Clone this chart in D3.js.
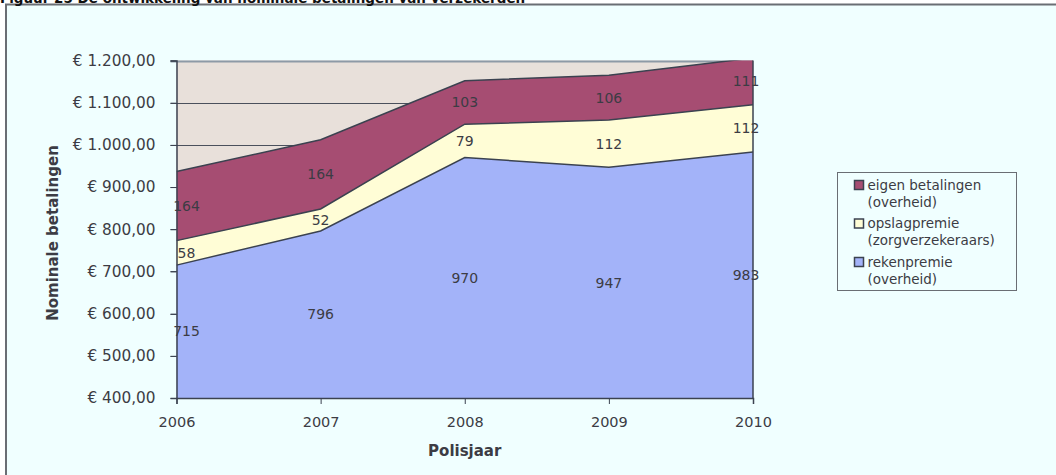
<!DOCTYPE html>
<html>
<head>
<meta charset="utf-8">
<script src="https://cdn.jsdelivr.net/npm/d3@7"></script>
<style>
  html, body { margin: 0; padding: 0; background: #fff; }
  svg { display: block; font-family: "DejaVu Sans", Verdana, sans-serif; }
</style>
</head>
<body>
<svg id="chart" width="1056" height="475"></svg>
<script>
// data
let years = [2006, 2007, 2008, 2009, 2010];
let rekenpremie = [715, 796, 970, 947, 983];
let opslagpremie = [58, 52, 79, 112, 112];
let eigenBetalingen = [164, 164, 103, 106, 111];
let yTicks = [400, 500, 600, 700, 800, 900, 1000, 1100, 1200];

let seriesNames = ['rekenpremie', 'opslagpremie', 'eigen'];
let seriesColors = ['#a3b3f9', '#fffdd6', '#a64d72'];
let legendItems = [
    {key: 'eigen', lines: ['eigen betalingen', '(overheid)']},
    {key: 'opslagpremie', lines: ['opslagpremie', '(zorgverzekeraars)']},
    {key: 'rekenpremie', lines: ['rekenpremie', '(overheid)']}
];

let colorBg = '#f0ffff';
let colorPlot = '#e8e0da';
let colorLine = '#3b4250';
let colorText = '#3c3c44';

let svg = d3.select('#chart');
let width = 1056, height = 475;
let margin = {left: 176.5, right: 1056 - 753, top: 60.5, bottom: 475 - 398};

let table = years.map((y, i) => ({
    year: y,
    rekenpremie: rekenpremie[i],
    opslagpremie: opslagpremie[i],
    eigen: eigenBetalingen[i]
}));

let x = d3.scaleLinear().domain([2006, 2010]).range([margin.left, width - margin.right]);
let y = d3.scaleLinear().domain([400, 1200]).range([height - margin.bottom, margin.top]);

let stack = d3.stack().keys(seriesNames);
let layers = stack(table);
let color = d3.scaleOrdinal().domain(seriesNames).range(seriesColors);

// outer frame
svg.append('rect').attr('x', 0).attr('y', 0).attr('width', width).attr('height', height).attr('fill', '#fff');
svg.append('rect')
    .attr('x', 6).attr('y', 4.5).attr('width', width + 10).attr('height', height + 10)
    .attr('fill', colorBg).attr('stroke', '#6a6e74').attr('stroke-width', 2);

svg.append('text')
    .attr('x', 0).attr('y', 2.5)
    .attr('font-size', 13.5).attr('font-weight', 'bold').attr('fill', '#111')
    .text('Figuur 25 De ontwikkeling van nominale betalingen van verzekerden');

// plot area
svg.append('defs').append('clipPath').attr('id', 'clip')
    .append('rect')
    .attr('x', x(2006)).attr('y', y(1200))
    .attr('width', x(2010) - x(2006)).attr('height', y(400) - y(1200));

svg.append('rect')
    .attr('x', x(2006)).attr('y', y(1200))
    .attr('width', x(2010) - x(2006)).attr('height', y(400) - y(1200))
    .attr('fill', colorPlot);

// gridlines
svg.append('g')
    .selectAll('line')
    .data(yTicks.filter(t => t > 400))
    .join('line')
    .attr('x1', x(2006) - 6).attr('x2', x(2010))
    .attr('y1', d => Math.round(y(d)) + 0.5).attr('y2', d => Math.round(y(d)) + 0.5)
    .attr('stroke', d => d === 1200 ? '#8d9aa6' : '#4a505c')
    .attr('stroke-width', d => d === 1200 ? 2 : 1);

let area = d3.area()
    .x(d => x(d.data.year))
    .y0(d => y(d[0]))
    .y1(d => y(d[1]));

let line = d3.line()
    .x(d => x(d.data.year))
    .y(d => y(d[1]));

let plot = svg.append('g').attr('clip-path', 'url(#clip)');

plot.selectAll('path.area')
    .data(layers)
    .join('path')
    .attr('class', 'area')
    .attr('d', area)
    .attr('fill', d => color(d.key));

plot.selectAll('path.edge')
    .data(layers)
    .join('path')
    .attr('class', 'edge')
    .attr('d', line)
    .attr('fill', 'none')
    .attr('stroke', colorLine)
    .attr('stroke-width', 1.5);

// right edge of the areas
svg.append('line')
    .attr('x1', x(2010)).attr('x2', x(2010))
    .attr('y1', y(1200)).attr('y2', y(400))
    .attr('stroke', colorLine).attr('stroke-width', 1.5);

// axes
let yAxis = d3.axisLeft(y)
    .tickValues(yTicks)
    .tickSize(6)
    .tickFormat(d => '€ ' + d3.format(',.2f')(d).replace(/,/g, 'X').replace('.', ',').replace(/X/g, '.'));

let gy = svg.append('g')
    .attr('transform', `translate(${x(2006)},0)`)
    .call(yAxis);
gy.select('.domain').attr('stroke', colorLine).attr('stroke-width', 1.5);
gy.selectAll('.tick line').attr('stroke', colorLine);
gy.selectAll('.tick text')
    .attr('x', -21)
    .attr('fill', colorText)
    .attr('font-size', 15.3)
    .attr('font-family', '"DejaVu Sans", Verdana, sans-serif');

let xAxis = d3.axisBottom(x)
    .tickValues(years)
    .tickSize(6)
    .tickFormat(d3.format('d'));

let gx = svg.append('g')
    .attr('transform', `translate(0,${y(400)})`)
    .call(xAxis);
gx.select('.domain').attr('stroke', colorLine).attr('stroke-width', 1.5);
gx.selectAll('.tick line').attr('stroke', colorLine);
gx.selectAll('.tick text')
    .attr('y', 19)
    .attr('fill', colorText)
    .attr('font-size', 14.5)
    .attr('font-family', '"DejaVu Sans", Verdana, sans-serif');

// axis titles
svg.append('text')
    .attr('transform', `translate(58,${233}) rotate(-90)`)
    .attr('text-anchor', 'middle')
    .attr('font-size', 15).attr('font-weight', 'bold').attr('fill', colorText)
    .text('Nominale betalingen');

svg.append('text')
    .attr('x', (x(2006) + x(2010)) / 2).attr('y', 456)
    .attr('text-anchor', 'middle')
    .attr('font-size', 15).attr('font-weight', 'bold').attr('fill', colorText)
    .text('Polisjaar');

// value labels in the middle of the visible part of each band
let labels = svg.append('g');
layers.forEach(layer => {
    labels.selectAll(null)
        .data(layer)
        .join('text')
        .attr('x', (d, i) => x(d.data.year) + (i === 0 ? 10 : i === years.length - 1 ? -7 : 0))
        .attr('y', d => y((Math.max(d[0], 400) + d[1]) / 2))
        .attr('dy', '0.35em')
        .attr('text-anchor', 'middle')
        .attr('font-size', 14)
        .attr('fill', colorText)
        .text(d => d.data[layer.key]);
});

// legend
let legend = svg.append('g');
legend.append('rect')
    .attr('x', 837.5).attr('y', 172.5).attr('width', 179).attr('height', 118)
    .attr('fill', colorBg).attr('stroke', '#6a6e74');

legendItems.forEach((item, i) => {
    let top = 180 + i * 38.5;
    legend.append('rect')
        .attr('x', 854.5).attr('y', top + 0.5).attr('width', 9).attr('height', 9)
        .attr('fill', color(item.key)).attr('stroke', colorLine).attr('stroke-width', 1.5);
    item.lines.forEach((t, j) => {
        legend.append('text')
            .attr('x', 867.5).attr('y', top + 5 + j * 17)
            .attr('dy', '0.35em')
            .attr('font-size', 13.5)
            .attr('fill', colorText)
            .text(t);
    });
});
</script>
</body>
</html>
